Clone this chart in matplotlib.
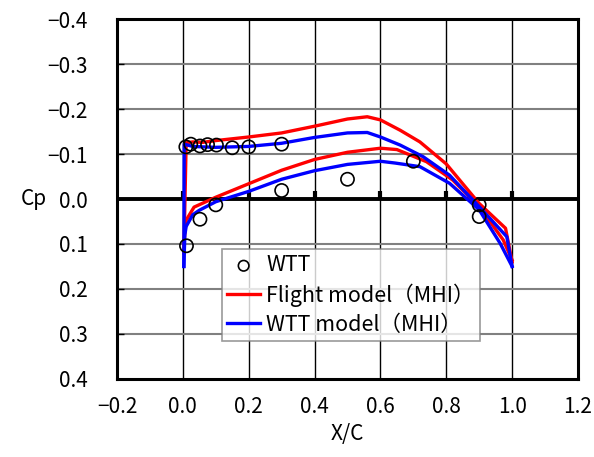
import numpy as np
import matplotlib
matplotlib.use('Agg')
import matplotlib.pyplot as plt

plt.rcParams['font.family'] = ['Noto Sans CJK JP', 'DejaVu Sans']

# WTT measurements
wtt_x = [0.009, 0.024, 0.052, 0.075, 0.102, 0.15, 0.2, 0.3,
         0.011, 0.052, 0.1, 0.3, 0.5, 0.7, 0.9, 0.9]
wtt_cp = [-0.116, -0.122, -0.118, -0.121, -0.12, -0.114, -0.116, -0.122,
          0.104, 0.045, 0.013, -0.019, -0.044, -0.084, 0.013, 0.039]

# Flight model (MHI)
fl_up_x = [0.003, 0.01, 0.03, 0.06, 0.1, 0.15, 0.2, 0.3, 0.4, 0.5, 0.56,
           0.6, 0.66, 0.72, 0.8, 0.9, 0.98, 1.0]
fl_up_cp = [0.12, -0.125, -0.127, -0.126, -0.13, -0.134, -0.138, -0.147,
            -0.162, -0.178, -0.183, -0.176, -0.153, -0.127, -0.078, 0.01,
            0.065, 0.14]
fl_lo_x = [0.003, 0.01, 0.034, 0.1, 0.2, 0.3, 0.4, 0.5, 0.6, 0.65, 0.74,
           0.82, 0.9, 0.973, 1.0]
fl_lo_cp = [0.1, 0.047, 0.018, -0.004, -0.034, -0.064, -0.088, -0.104,
            -0.113, -0.11, -0.083, -0.042, 0.017, 0.091, 0.136]

# WTT model (MHI)
wm_up_x = [0.003, 0.004, 0.03, 0.06, 0.1, 0.2, 0.3, 0.4, 0.5, 0.56, 0.6,
           0.66, 0.73, 0.81, 0.9, 0.984, 1.0]
wm_up_cp = [0.15, -0.122, -0.117, -0.116, -0.115, -0.117, -0.124, -0.137,
            -0.147, -0.148, -0.138, -0.12, -0.094, -0.053, 0.017, 0.084, 0.15]
wm_lo_x = [0.003, 0.006, 0.01, 0.03, 0.05, 0.1, 0.2, 0.3, 0.4, 0.5, 0.6,
           0.645, 0.72, 0.81, 0.9, 0.964, 1.0]
wm_lo_cp = [0.15, 0.08, 0.061, 0.035, 0.025, 0.006, -0.017, -0.044, -0.063,
            -0.077, -0.084, -0.08, -0.072, -0.035, 0.024, 0.099, 0.15]

x_ticks = [-0.2, 0.0, 0.2, 0.4, 0.6, 0.8, 1.0, 1.2]
y_ticks = [-0.4, -0.3, -0.2, -0.1, 0.0, 0.1, 0.2, 0.3, 0.4]
zero_ticks = [0.0, 0.2, 0.4, 0.6, 0.8, 1.0]

fig = plt.figure(figsize=(5.94, 4.57), dpi=100)
ax = fig.add_axes([0.197, 0.171, 0.776, 0.787])

ax.set_xlim(-0.2, 1.2)
ax.set_ylim(0.4, -0.4)
ax.set_xticks(x_ticks)
ax.set_yticks(y_ticks)
ax.set_xticklabels([f'{v:.1f}'.replace('-', '\u2212') for v in x_ticks])
ax.set_yticklabels([f'{v:.1f}'.replace('-', '\u2212') for v in y_ticks])

# grid: black verticals, gray horizontals
for xv in zero_ticks:
    ax.axvline(xv, color='black', lw=1.0, zorder=1)
for yv in y_ticks[1:-1]:
    if yv != 0.0:
        ax.axhline(yv, color='#808080', lw=1.5, zorder=1)

# zero line with small tick marks
ax.axhline(0.0, color='black', lw=2.8, zorder=2)
ax.vlines(zero_ticks, -0.018, 0.0, color='black', lw=3, zorder=2)

ax.plot(fl_up_x, fl_up_cp, color='#ff0000', lw=2.4, zorder=3)
ax.plot(fl_lo_x, fl_lo_cp, color='#ff0000', lw=2.4, zorder=3,
        label='Flight model\uff08MHI\uff09')
ax.plot(wm_up_x, wm_up_cp, color='#0000ff', lw=2.4, zorder=4)
ax.plot(wm_lo_x, wm_lo_cp, color='#0000ff', lw=2.4, zorder=4,
        label='WTT model\uff08MHI\uff09')
ax.scatter(wtt_x, wtt_cp, s=90, facecolors='none', edgecolors='black',
           linewidths=1.2, zorder=5, label='WTT')

for s in ax.spines.values():
    s.set_linewidth(2.2)
    s.set_color('black')

ax.tick_params(axis='both', direction='in', length=5, width=1,
               labelsize=15)
ax.tick_params(axis='x', length=0, pad=12)
ax.tick_params(axis='y', pad=21)

ax.set_xlabel('X/C', fontsize=15, labelpad=4)
ax.set_ylabel('Cp', fontsize=15, rotation=0, va='center', ha='center')
ax.yaxis.set_label_coords(-0.18, 0.5)

h, l = ax.get_legend_handles_labels()
order = [2, 0, 1]
leg = ax.legend([h[i] for i in order], [l[i] for i in order],
                loc='upper left', bbox_to_anchor=(0.228, 0.361),
                fontsize=15.5, frameon=True, fancybox=False,
                handlelength=1.5, handletextpad=0.3, labelspacing=0.32,
                borderpad=0.25, borderaxespad=0, markerscale=0.8)
leg.get_frame().set_edgecolor('#808080')
leg.get_frame().set_linewidth(1.2)
leg.set_zorder(6)

fig.savefig('out.png', dpi=100)
